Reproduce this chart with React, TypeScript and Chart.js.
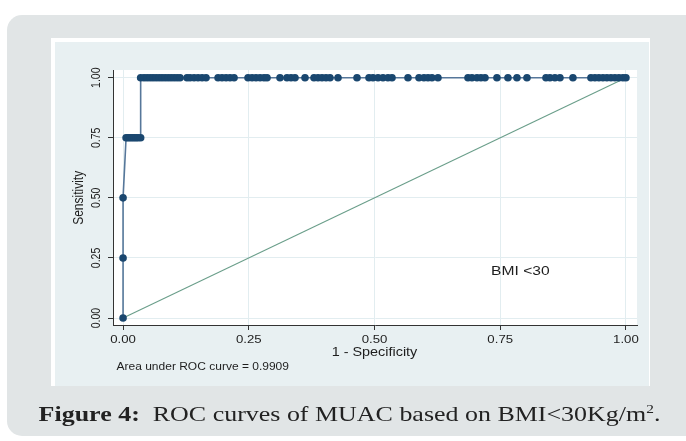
import { useEffect, useRef } from 'react';
import { Chart, registerables } from 'chart.js';

Chart.register(...registerables);

// ---- data ----
const TICKS = [0, 0.25, 0.5, 0.75, 1];
const TICK_LABELS = ['0.00', '0.25', '0.50', '0.75', '1.00'];

// ROC curve points (1 - specificity, sensitivity)
const FPR_LOW = [0, 0, 0];
const TPR_LOW = [0, 0.25, 0.5];
const FPR_MID = [0.006, 0.01, 0.014, 0.018, 0.022, 0.026, 0.03, 0.035];
const TPR_MID = [0.75, 0.75, 0.75, 0.75, 0.75, 0.75, 0.75, 0.75];
const FPR_TOP = [
  0.035, 0.0417, 0.0477, 0.0537, 0.0596, 0.0656, 0.0716, 0.0775, 0.0835, 0.0895,
  0.0954, 0.1014, 0.1074, 0.1133, 0.1272, 0.1332, 0.1412, 0.1491, 0.1571, 0.165,
  0.1889, 0.1968, 0.2048, 0.2127, 0.2207, 0.2485, 0.2565, 0.2644, 0.2724, 0.2803,
  0.2863, 0.3121, 0.326, 0.334, 0.3419, 0.3618, 0.3797, 0.3877, 0.3956, 0.4036,
  0.4115, 0.4274, 0.4652, 0.4891, 0.497, 0.507, 0.5169, 0.5268, 0.5348, 0.5666,
  0.5885, 0.5984, 0.6064, 0.6143, 0.6262, 0.6859, 0.6938, 0.7038, 0.7117, 0.7197,
  0.7435, 0.7654, 0.7833, 0.8032, 0.841, 0.8489, 0.8588, 0.8688, 0.8946, 0.9304,
  0.9384, 0.9463, 0.9543, 0.9622, 0.9702, 0.9781, 0.9861, 0.994, 1.0,
];
const TPR_TOP_VALUE = 1;

const REF_X = [0, 1];
const REF_Y = [0, 1];

const X_TITLE = '1 - Specificity';
const Y_TITLE = 'Sensitivity';
const AUC_NOTE = 'Area under ROC curve = 0.9909';
const GROUP_LABEL = 'BMI <30';
const GROUP_LABEL_POS = [0.79, 0.193];

const SX = 1.2; // horizontal stretch of the original graph's text

function drawStretched(
  ctx: CanvasRenderingContext2D,
  text: string,
  x: number,
  y: number,
  font: string,
  align: CanvasTextAlign,
  rotate = false
) {
  ctx.save();
  ctx.translate(x, y);
  ctx.scale(SX, 1);
  if (rotate) ctx.rotate(-Math.PI / 2);
  ctx.font = font;
  ctx.textAlign = align;
  ctx.textBaseline = 'middle';
  ctx.fillStyle = '#1e1e1e';
  ctx.fillText(text, 0, 0);
  ctx.restore();
}

const textPlugin = {
  id: 'stataText',
  beforeDraw(chart: any) {
    const { ctx, chartArea } = chart;
    ctx.save();
    ctx.fillStyle = '#ffffff';
    ctx.fillRect(chartArea.left, chartArea.top, chartArea.right - chartArea.left, chartArea.bottom - chartArea.top);
    ctx.restore();
  },
  afterDraw(chart: any) {
    const { ctx, chartArea, scales } = chart;
    const xs = scales.x;
    const ys = scales.y;
    const F = 'Liberation Sans, Arial, sans-serif';
    TICKS.forEach((v, i) => {
      drawStretched(ctx, TICK_LABELS[i], xs.getPixelForValue(v), chartArea.bottom + 15, `11px ${F}`, 'center');
      drawStretched(ctx, TICK_LABELS[i], chartArea.left - 16.5, ys.getPixelForValue(v), `10.5px ${F}`, 'center', true);
    });
    drawStretched(ctx, X_TITLE, xs.getPixelForValue(0.5), chartArea.bottom + 27.5, `12px ${F}`, 'center');
    drawStretched(ctx, Y_TITLE, chartArea.left - 34, ys.getPixelForValue(0.5), `12px ${F}`, 'center', true);
    drawStretched(ctx, AUC_NOTE, chartArea.left + 3.5, chartArea.bottom + 42.5, `10px ${F}`, 'left');
    drawStretched(
      ctx,
      GROUP_LABEL,
      xs.getPixelForValue(GROUP_LABEL_POS[0]),
      ys.getPixelForValue(GROUP_LABEL_POS[1]),
      `13px ${F}`,
      'center'
    );
  },
};

export default function App() {
  const ref = useRef<HTMLCanvasElement | null>(null);

  useEffect(() => {
    if (!ref.current) return;
    const rocX = [...FPR_LOW, ...FPR_MID, ...FPR_TOP];
    const rocY = [...TPR_LOW, ...TPR_MID, ...FPR_TOP.map(() => TPR_TOP_VALUE)];
    const roc = rocX.map((x, i) => ({ x, y: rocY[i] }));
    const ref45 = REF_X.map((x, i) => ({ x, y: REF_Y[i] }));

    const chart = new Chart(ref.current, {
      type: 'scatter',
      data: {
        datasets: [
          {
            label: 'ROC',
            data: roc,
            showLine: true,
            borderColor: '#56779a',
            borderWidth: 1.6,
            pointRadius: 3.8,
            pointBackgroundColor: '#1a476f',
            pointBorderColor: '#1a476f',
            pointBorderWidth: 0,
          },
          {
            label: 'Reference',
            data: ref45,
            showLine: true,
            borderColor: '#6a9e8a',
            borderWidth: 1.1,
            pointRadius: 0,
          },
        ],
      },
      options: {
        responsive: false,
        maintainAspectRatio: false,
        animation: false,
        layout: { padding: { left: 0, top: 70, right: 49, bottom: 0 } },
        plugins: { legend: { display: false }, tooltip: { enabled: false } },
        scales: {
          x: {
            type: 'linear',
            min: -0.02,
            max: 1.022,
            afterBuildTicks: (s: any) => {
              s.ticks = TICKS.map((v) => ({ value: v }));
            },
            afterFit: (s: any) => {
              s.height = 116;
            },
            ticks: { display: false },
            grid: { color: '#e2edf0', lineWidth: 1, tickColor: '#333333', tickLength: 5, drawTicks: true },
            border: { color: '#333333', width: 1 },
          },
          y: {
            type: 'linear',
            min: -0.029,
            max: 1.032,
            afterBuildTicks: (s: any) => {
              s.ticks = TICKS.map((v) => ({ value: v }));
            },
            afterFit: (s: any) => {
              s.width = 113;
            },
            ticks: { display: false },
            grid: { color: '#e2edf0', lineWidth: 1, tickColor: '#333333', tickLength: 5, drawTicks: true },
            border: { color: '#333333', width: 1 },
          },
        },
      },
      plugins: [textPlugin],
    });
    return () => chart.destroy();
  }, []);

  return (
    <div style={{ position: 'fixed', left: 0, top: 0, width: 686, height: 441, background: '#ffffff', overflow: 'hidden' }}>
      <div style={{ position: 'absolute', left: 7, top: 15, width: 720, height: 421, background: '#e1e5e6', borderRadius: 15 }} />
      <div style={{ position: 'absolute', left: 51, top: 38, width: 599, height: 348, background: '#ffffff' }} />
      <div style={{ position: 'absolute', left: 55, top: 42, width: 594, height: 344, background: '#e8f0f2' }} />
      <canvas ref={ref} width={686} height={441} style={{ position: 'absolute', left: 0, top: 0, width: 686, height: 441 }} />
      <div
        style={{
          position: 'absolute',
          left: 13,
          width: 673,
          top: 401,
          lineHeight: '26px',
          textAlign: 'center',
          fontFamily: '"Liberation Serif", serif',
          fontSize: 22,
          color: '#222',
          whiteSpace: 'nowrap',
          transform: 'scaleX(1.18)',
          transformOrigin: '50% 50%',
        }}
      >
        <b>Figure 4:</b>&nbsp; ROC curves of MUAC based on BMI&lt;30Kg/m<sup style={{ fontSize: 13, lineHeight: 0 }}>2</sup>.
      </div>
    </div>
  );
}
